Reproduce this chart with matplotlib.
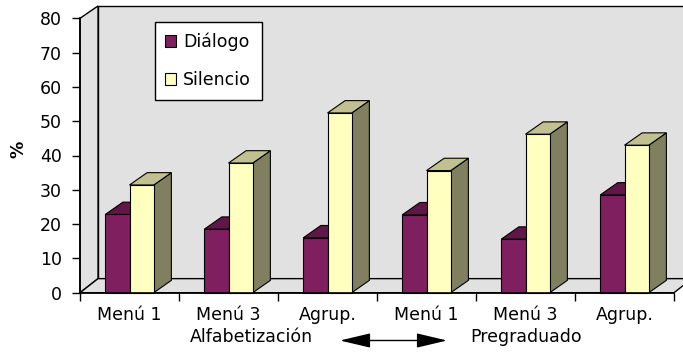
import matplotlib
matplotlib.use("Agg")
import matplotlib.pyplot as plt
from matplotlib.patches import Polygon, Patch

plt.rcParams['font.family'] = ['DejaVu Sans']

categories = ["Menú 1", "Menú 3", "Agrup.", "Menú 1", "Menú 3", "Agrup."]
groups = ["Alfabetización", "Pregraduado"]
series_names = ["Diálogo", "Silencio"]
dialogo = [22.8, 18.5, 16.0, 22.7, 15.6, 28.5]
silencio = [31.4, 37.8, 52.4, 35.6, 46.2, 43.0]
yticks = [0, 10, 20, 30, 40, 50, 60, 70, 80]

W, H = 683, 354
fig = plt.figure(figsize=(W / 100, H / 100), dpi=100)
fig.patch.set_facecolor("white")

def fx(px):
    return px / W

def fy(py):
    return 1 - py / H

FS = 12.5

ax = fig.add_axes([fx(80), fy(292.7), fx(674) - fx(80), fy(18.3) - fy(292.7)])
ax.set_xlim(0, len(categories))
ax.set_ylim(0, 80)
ax.patch.set_visible(False)

# depth offsets (data units)
wdx, wdy, wtop = 0.182, 4.1, 3.6
bdx, bdy = 0.178, 3.6

wall_c = "#E1E1E1"
n = len(categories)
# back wall
ax.add_patch(Polygon([(wdx, wdy), (n + wdx, wdy), (n + wdx, 80 + wtop), (wdx, 80 + wtop)],
                     closed=True, facecolor=wall_c, edgecolor="black", lw=1, clip_on=False, zorder=0))
# left wall
ax.add_patch(Polygon([(0, 0), (wdx, wdy), (wdx, 80 + wtop), (0, 80)],
                     closed=True, facecolor=wall_c, edgecolor="black", lw=1, clip_on=False, zorder=0.5))
# floor
ax.add_patch(Polygon([(0, 0), (n, 0), (n + wdx, wdy), (wdx, wdy)],
                     closed=True, facecolor=wall_c, edgecolor="black", lw=1, clip_on=False, zorder=0.6))

colors = {
    "Diálogo": ("#801F60", "#5E1746", "#4A1238"),
    "Silencio": ("#FFFFC0", "#C0C090", "#808060"),
}

bw = 0.245
x_start = 0.255
z = 1
for i in range(n):
    for j, (name, vals) in enumerate(zip(series_names, [dialogo, silencio])):
        v = vals[i]
        x0 = i + x_start + j * bw
        x1 = x0 + bw
        front, top, side = colors[name]
        ax.add_patch(Polygon([(x1, 0), (x1 + bdx, bdy), (x1 + bdx, v + bdy), (x1, v)],
                             closed=True, facecolor=side, edgecolor="black", lw=0.8, clip_on=False, zorder=z))
        ax.add_patch(Polygon([(x0, v), (x1, v), (x1 + bdx, v + bdy), (x0 + bdx, v + bdy)],
                             closed=True, facecolor=top, edgecolor="black", lw=0.8, clip_on=False, zorder=z))
        ax.bar([x0], [v], width=bw, align="edge", color=front, edgecolor="black", lw=0.8,
               zorder=z + 0.5, clip_on=False)
        z += 1

for s in ["top", "right"]:
    ax.spines[s].set_visible(False)
for s in ["left", "bottom"]:
    ax.spines[s].set_color("black")
    ax.spines[s].set_linewidth(1.2)
    ax.spines[s].set_zorder(50)

ax.set_yticks(yticks)
ax.set_yticklabels([str(t) for t in yticks])
ax.tick_params(axis="y", direction="out", length=6, width=1, pad=7, labelsize=FS)
ax.set_xticks(range(n + 1))
ax.set_xticklabels([""] * (n + 1))
ax.set_xticks([i + 0.5 for i in range(n)], minor=True)
ax.set_xticklabels(categories, minor=True)
ax.tick_params(axis="x", which="major", direction="out", length=6, width=1)
ax.tick_params(axis="x", which="minor", length=0, pad=9.5, labelsize=FS)

# group labels
fig.text(fx(251), fy(342.5), groups[0], ha="center", va="baseline", fontsize=FS)
fig.text(fx(526), fy(342.5), groups[1], ha="center", va="baseline", fontsize=FS)
ax.annotate("", xy=(fx(447), fy(340.5)), xytext=(fx(340), fy(340.5)),
            xycoords="figure fraction", textcoords="figure fraction",
            arrowprops=dict(arrowstyle="<|-|>,head_length=1.9,head_width=0.45",
                            mutation_scale=10, color="black", lw=1, shrinkA=0, shrinkB=0))

fig.text(fx(18), fy(149), "%", rotation=90, ha="center", va="center", fontsize=12.5, fontweight="bold")

handles = [Patch(facecolor=colors[nm][0], edgecolor="black", lw=0.8) for nm in series_names]
leg = fig.legend(handles, series_names, loc="upper left", bbox_to_anchor=(fx(154.7), fy(22.3)),
                 frameon=True, fancybox=False, edgecolor="black", framealpha=1, fontsize=FS,
                 handlelength=0.65, handleheight=0.65, handletextpad=0.4, labelspacing=1.15,
                 borderpad=0.6, borderaxespad=0)
leg.get_frame().set_linewidth(1)

fig.savefig("out.png", dpi=100)
